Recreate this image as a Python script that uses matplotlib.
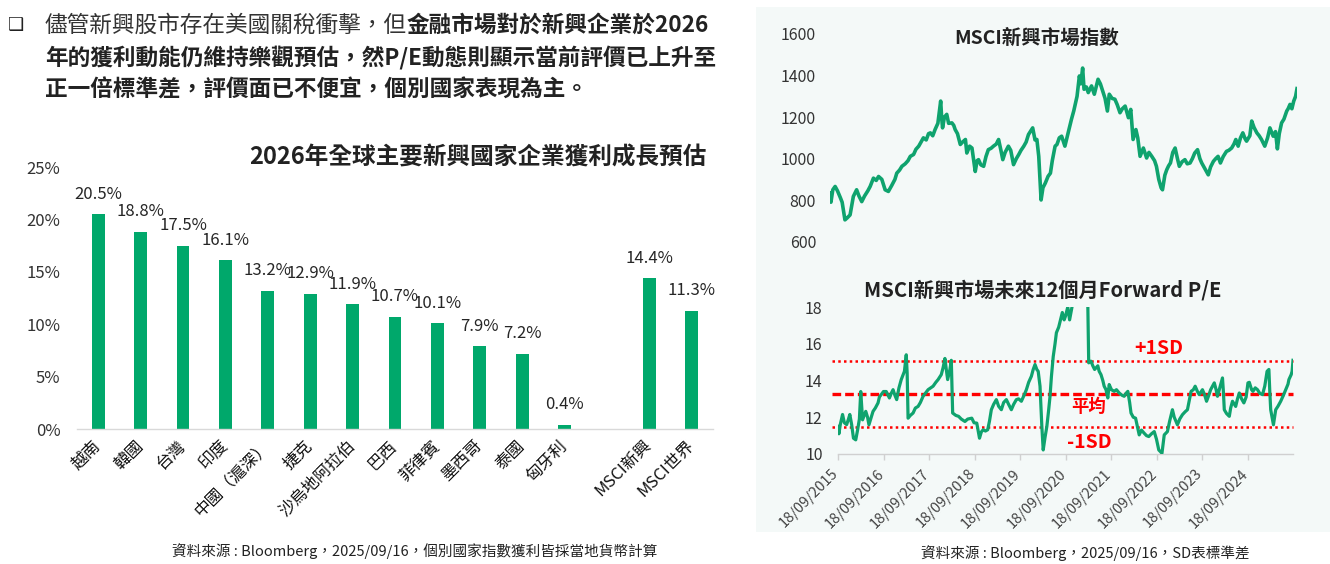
import matplotlib
matplotlib.use("Agg")
import matplotlib.pyplot as plt
import numpy as np
import pandas as pd
from matplotlib.patches import Rectangle
from matplotlib.transforms import ScaledTranslation

plt.rcParams['font.family'] = ['Noto Sans CJK TC', 'DejaVu Sans']

# ---------------- data ----------------
header_line1_a = "儘管新興股市存在美國關稅衝擊，但"
header_line1_b = "金融市場對於新興企業於2026"
header_line2 = "年的獲利動能仍維持樂觀預估，然P/E動態則顯示當前評價已上升至"
header_line3 = "正一倍標準差，評價面已不便宜，個別國家表現為主。"

bar_title = "2026年全球主要新興國家企業獲利成長預估"
bar_categories = ["越南", "韓國", "台灣", "印度", "中國（滬深）", "捷克", "沙烏地阿拉伯",
                  "巴西", "菲律賓", "墨西哥", "泰國", "匈牙利", "MSCI新興", "MSCI世界"]
bar_slots = [0, 1, 2, 3, 4, 5, 6, 7, 8, 9, 10, 11, 13, 14]
bar_values = [20.5, 18.8, 17.5, 16.1, 13.2, 12.9, 11.9, 10.7, 10.1, 7.9, 7.2, 0.4, 14.4, 11.3]
bar_yticks = [0, 5, 10, 15, 20, 25]
bar_source = "資料來源 : Bloomberg，2025/09/16，個別國家指數獲利皆採當地貨幣計算"

idx_title = "MSCI新興市場指數"
idx_yticks = [600, 800, 1000, 1200, 1400, 1600]
idx_years = [2015.71, 2015.73, 2015.77, 2015.82, 2015.87, 2015.93, 2015.97, 2016.03, 2016.08, 2016.14,
             2016.21, 2016.28, 2016.33, 2016.39, 2016.45, 2016.52, 2016.57, 2016.64, 2016.70, 2016.75,
             2016.82, 2016.89, 2016.96, 2017.03, 2017.10, 2017.14, 2017.20, 2017.25, 2017.32, 2017.38,
             2017.43, 2017.50, 2017.55, 2017.61, 2017.66, 2017.71, 2017.77, 2017.82, 2017.86, 2017.91,
             2017.96, 2018.02, 2018.08, 2018.10, 2018.12, 2018.16, 2018.21, 2018.25, 2018.32, 2018.36,
             2018.39, 2018.44, 2018.50, 2018.55, 2018.61, 2018.64, 2018.70, 2018.75, 2018.82, 2018.86,
             2018.89, 2018.94, 2019.00, 2019.05, 2019.10, 2019.16, 2019.21, 2019.27, 2019.32, 2019.37,
             2019.41, 2019.46, 2019.53, 2019.58, 2019.64, 2019.70, 2019.75, 2019.80, 2019.86, 2019.91,
             2019.96, 2020.05, 2020.10, 2020.14, 2020.18, 2020.21, 2020.23, 2020.27, 2020.32, 2020.38,
             2020.43, 2020.47, 2020.53, 2020.57, 2020.62, 2020.67, 2020.74, 2020.81, 2020.88, 2020.93,
             2020.96, 2021.00, 2021.05, 2021.08, 2021.12, 2021.15, 2021.20, 2021.24, 2021.31, 2021.37,
             2021.45, 2021.50, 2021.56, 2021.60, 2021.65, 2021.69, 2021.75, 2021.81, 2021.86, 2021.92,
             2021.97, 2022.03, 2022.10, 2022.15, 2022.20, 2022.26, 2022.30, 2022.35, 2022.42, 2022.49,
             2022.54, 2022.60, 2022.66, 2022.70, 2022.75, 2022.80, 2022.83, 2022.88, 2022.92, 2022.96,
             2023.00, 2023.05, 2023.10, 2023.15, 2023.19, 2023.25, 2023.31, 2023.36, 2023.42, 2023.47,
             2023.52, 2023.58, 2023.63, 2023.67, 2023.74, 2023.81, 2023.86, 2023.92, 2023.97, 2024.02,
             2024.07, 2024.13, 2024.20, 2024.25, 2024.31, 2024.36, 2024.40, 2024.45, 2024.50, 2024.55,
             2024.60, 2024.63, 2024.70, 2024.74, 2024.79, 2024.85, 2024.90, 2024.95, 2025.02, 2025.08,
             2025.13, 2025.20, 2025.25, 2025.29, 2025.33, 2025.38, 2025.43, 2025.49, 2025.52, 2025.56,
             2025.60, 2025.64, 2025.68, 2025.71]
idx_values = [835, 790, 850, 866, 845, 813, 790, 705, 715, 729,
              818, 850, 820, 793, 820, 845, 866, 906, 895, 914,
              900, 850, 842, 870, 900, 930, 945, 963, 975, 990,
              1011, 1020, 1045, 1060, 1080, 1100, 1090, 1120, 1124, 1110,
              1140, 1170, 1277, 1200, 1148, 1200, 1213, 1170, 1172, 1160,
              1140, 1120, 1068, 1080, 1092, 1027, 1060, 1051, 938, 990,
              995, 970, 963, 1010, 1043, 1050, 1060, 1070, 1092, 1040,
              995, 1030, 1060, 1040, 971, 1000, 1019, 1040, 1060, 1080,
              1116, 1148, 1090, 1092, 1011, 880, 801, 860, 882, 915,
              930, 990, 1060, 1068, 1100, 1108, 1060, 1124, 1189, 1230,
              1261, 1300, 1398, 1360, 1436, 1334, 1345, 1318, 1350, 1310,
              1382, 1360, 1318, 1290, 1229, 1310, 1290, 1286, 1260, 1221,
              1240, 1253, 1197, 1237, 1092, 1140, 1100, 1011, 1051, 1003,
              1030, 1011, 990, 963, 900, 860, 850, 920, 946, 965,
              979, 1030, 1051, 1000, 963, 985, 995, 975, 979, 1000,
              1027, 1043, 1000, 979, 950, 922, 960, 987, 1000, 1011,
              979, 1010, 1035, 1040, 1051, 1070, 1092, 1060, 1100, 1124,
              1095, 1084, 1110, 1181, 1150, 1124, 1110, 1092, 1060, 1100,
              1148, 1108, 1130, 1047, 1120, 1172, 1190, 1229, 1240, 1261,
              1240, 1277, 1300, 1337]

pe_title = "MSCI新興市場未來12個月Forward P/E"
pe_yticks = [10, 12, 14, 16, 18]
pe_tick_dates = ["18/09/2015", "18/09/2016", "18/09/2017", "18/09/2018", "18/09/2019",
                 "18/09/2020", "18/09/2021", "18/09/2022", "18/09/2023", "18/09/2024"]
pe_mean = 13.25
pe_sd = 1.8
pe_years = [2015.71, 2015.73, 2015.76, 2015.81, 2015.85, 2015.90, 2015.94, 2015.97, 2016.01, 2016.05,
            2016.10, 2016.14, 2016.18, 2016.21, 2016.25, 2016.30, 2016.32, 2016.36, 2016.39, 2016.44,
            2016.48, 2016.53, 2016.59, 2016.62, 2016.66, 2016.71, 2016.77, 2016.84, 2016.88, 2016.92,
            2016.96, 2017.00, 2017.05, 2017.10, 2017.14, 2017.17, 2017.21, 2017.23, 2017.25, 2017.30,
            2017.36, 2017.41, 2017.47, 2017.52, 2017.58, 2017.63, 2017.69, 2017.75, 2017.80, 2017.86,
            2017.91, 2017.98, 2018.02, 2018.06, 2018.09, 2018.12, 2018.17, 2018.20, 2018.23, 2018.30,
            2018.36, 2018.42, 2018.50, 2018.56, 2018.65, 2018.70, 2018.76, 2018.82, 2018.86, 2018.90,
            2018.95, 2019.00, 2019.04, 2019.08, 2019.13, 2019.19, 2019.24, 2019.30, 2019.35, 2019.41,
            2019.46, 2019.52, 2019.57, 2019.63, 2019.68, 2019.74, 2019.80, 2019.85, 2019.90, 2019.96,
            2020.00, 2020.04, 2020.08, 2020.11, 2020.15, 2020.19, 2020.22, 2020.26, 2020.30, 2020.34,
            2020.37, 2020.40, 2020.44, 2020.48, 2020.51, 2020.56, 2020.60, 2020.64, 2020.68, 2020.71,
            2020.76, 2020.80, 2020.86, 2020.92, 2020.98, 2021.05, 2021.12, 2021.19, 2021.20, 2021.22,
            2021.27, 2021.31, 2021.35, 2021.42, 2021.45, 2021.49, 2021.53, 2021.56, 2021.60, 2021.64,
            2021.67, 2021.72, 2021.78, 2021.83, 2021.89, 2021.95, 2022.00, 2022.04, 2022.08, 2022.12,
            2022.15, 2022.20, 2022.25, 2022.29, 2022.33, 2022.38, 2022.44, 2022.49, 2022.54, 2022.60,
            2022.66, 2022.71, 2022.76, 2022.83, 2022.88, 2022.95, 2023.00, 2023.06, 2023.10, 2023.17,
            2023.22, 2023.28, 2023.34, 2023.39, 2023.43, 2023.47, 2023.52, 2023.56, 2023.61, 2023.65,
            2023.72, 2023.77, 2023.81, 2023.86, 2023.90, 2023.98, 2024.02, 2024.05, 2024.10, 2024.16,
            2024.18, 2024.20, 2024.25, 2024.31, 2024.34, 2024.38, 2024.45, 2024.49, 2024.53, 2024.58,
            2024.63, 2024.68, 2024.72, 2024.75, 2024.80, 2024.83, 2024.88, 2024.93, 2024.98, 2025.04,
            2025.09, 2025.14, 2025.18, 2025.20, 2025.22, 2025.28, 2025.31, 2025.33, 2025.38, 2025.44,
            2025.50, 2025.55, 2025.60, 2025.62, 2025.67, 2025.69, 2025.71]
pe_values = [11.5, 11.1, 11.6, 12.15, 11.7, 11.6, 11.9, 12.15, 11.6, 10.86,
             10.77, 11.3, 11.9, 13.4, 11.86, 12.2, 12.32, 12.0, 11.59, 12.0,
             12.32, 12.5, 12.78, 13.1, 13.23, 13.4, 13.4, 13.05, 13.3, 13.5,
             13.2, 12.96, 13.6, 14.05, 14.3, 14.5, 15.4, 14.4, 11.95, 12.1,
             12.23, 12.5, 12.59, 12.8, 13.14, 13.3, 13.5, 13.6, 13.69, 13.9,
             14.05, 14.32, 14.7, 15.2, 14.6, 14.05, 14.6, 15.1, 12.23, 12.1,
             12.05, 11.9, 11.77, 11.9, 11.95, 11.7, 11.68, 10.86, 11.2, 11.32,
             11.25, 11.32, 11.8, 12.41, 12.7, 12.96, 12.6, 12.41, 12.8, 12.96,
             12.7, 12.41, 12.7, 12.96, 13.0, 12.87, 13.2, 13.5, 13.9, 14.23,
             14.6, 14.87, 14.6, 14.5, 13.69, 11.5, 10.22, 10.9, 11.5, 12.4,
             13.14, 14.2, 15.3, 16.0, 16.6, 16.9, 17.3, 17.7, 17.3, 17.5,
             18.0, 17.3, 18.1, 18.8, 19.3, 19.8, 19.5, 18.5, 18.2, 14.96,
             15.05, 14.8, 14.6, 14.8, 14.5, 14.32, 14.0, 13.69, 13.5, 13.05,
             13.78, 13.5, 13.41, 13.5, 13.32, 13.2, 13.14, 13.3, 13.41, 12.8,
             12.23, 12.0, 11.95, 11.5, 11.04, 11.3, 11.13, 11.0, 10.95, 11.1,
             11.22, 10.8, 10.22, 10.04, 11.04, 11.22, 11.8, 12.41, 12.0, 11.59,
             11.9, 12.14, 12.3, 12.41, 12.9, 13.41, 13.5, 13.69, 13.4, 13.23,
             13.5, 13.2, 12.87, 13.2, 13.5, 13.87, 13.5, 13.14, 13.6, 14.14,
             13.4, 12.41, 12.2, 12.05, 12.5, 12.87, 12.59, 13.0, 13.32, 13.0,
             12.78, 13.1, 13.87, 13.9, 13.5, 13.41, 13.6, 13.5, 13.3, 13.23,
             13.7, 14.5, 14.6, 13.4, 12.41, 11.59, 12.1, 12.41, 12.6, 12.87,
             13.2, 13.5, 13.8, 14.05, 14.32, 14.5, 15.1]
pe_source = "資料來源 : Bloomberg，2025/09/16，SD表標準差"

# ---------------- styling ----------------
W, H = 1330, 564
GREEN = '#00a86b'
LINE_GREEN = '#0fa36e'
RED = '#ff0000'
TXT = '#262626'
PANEL = '#f4f9f8'

fig = plt.figure(figsize=(W / 100, H / 100), dpi=100)
fig.patch.set_facecolor('white')


def fx(x):
    return x / W


def fy(y):
    return 1 - y / H


def rect(l, t, r, b):
    return [fx(l), fy(b), (r - l) / W, (b - t) / H]


# right background panel
fig.patches.append(Rectangle((fx(756), fy(532)), (1330 - 756) / W, (532 - 7) / H,
                             transform=fig.transFigure, facecolor=PANEL, edgecolor='none', zorder=-10))

# ---------------- header text ----------------
HFS = 16.3
fig.text(fx(8), fy(25), "❑", family=['DejaVu Sans'], fontsize=13, color='#222', va='center', ha='left')
t1 = fig.text(fx(45), fy(25), header_line1_a, fontsize=HFS, color='#333', va='center', ha='left')
fig.canvas.draw()
bb = t1.get_window_extent()
fig.text(bb.x1 / W, fy(25), header_line1_b, fontsize=HFS, color='#222', va='center', ha='left',
         fontweight='bold')
fig.text(fx(45), fy(57.5), header_line2, fontsize=HFS, color='#222', va='center', ha='left', fontweight='bold')
fig.text(fx(45), fy(90), header_line3, fontsize=HFS, color='#222', va='center', ha='left', fontweight='bold')

# ---------------- bar chart ----------------
axb = fig.add_axes(rect(77, 167, 713, 429))
axb.set_facecolor('none')
axb.bar(bar_slots, bar_values, width=0.3, color=GREEN, zorder=2)
axb.set_xlim(-0.5, 14.5)
axb.set_ylim(0, 25)
axb.set_yticks(bar_yticks, [f"{v}%" for v in bar_yticks])
axb.set_xticks(bar_slots, bar_categories, rotation=45, ha='right', va='top')
axb.tick_params(axis='y', length=0, pad=12, labelsize=12, labelcolor='#333')
axb.tick_params(axis='x', length=0, pad=6, labelsize=12, labelcolor='#111')
shift = ScaledTranslation(6 / 100, 0, fig.dpi_scale_trans)
for lab in axb.get_xticklabels():
    lab.set_transform(lab.get_transform() + shift)
for s in ['top', 'right', 'left']:
    axb.spines[s].set_visible(False)
axb.spines['bottom'].set_color('#d9d9d9')
axb.spines['bottom'].set_linewidth(1)
for xs, v in zip(bar_slots, bar_values):
    axb.annotate(f"{v:.1f}%", (xs, v), xytext=(0, 14.4), textcoords='offset points',
                 ha='center', va='center', fontsize=12, color=TXT)
fig.text(fx(478), fy(158), bar_title, fontsize=17, color='#222', ha='center', va='center', fontweight='bold')
fig.text(fx(415), fy(551), bar_source, fontsize=10.5, color='#222', ha='center', va='center')

# ---------------- index chart ----------------
axi = fig.add_axes(rect(830, 34, 1297, 241.7))
axi.set_facecolor('none')
axi.plot(idx_years, idx_values, color=LINE_GREEN, lw=2.6, solid_joinstyle='round')
axi.set_xlim(2015.71, 2025.71)
axi.set_ylim(600, 1600)
axi.set_yticks(idx_yticks, [str(v) for v in idx_yticks])
axi.set_xticks([])
axi.tick_params(axis='y', length=0, pad=10, labelsize=11.5, labelcolor='#333')
for s in axi.spines.values():
    s.set_visible(False)
fig.text(fx(1037), fy(38), idx_title, fontsize=14, color='#222', ha='center', va='center', fontweight='bold')

# ---------------- P/E chart ----------------
axp = fig.add_axes(rect(838, 307, 1293, 454))
axp.set_facecolor('none')
axp.plot(pe_years, pe_values, color=LINE_GREEN, lw=2.3, solid_joinstyle='round', zorder=3)
axp.set_xlim(2015.71, 2025.71)
axp.set_ylim(10, 18)
x_lo, x_hi = 2015.57, 2025.71
axp.plot([x_lo, x_hi], [pe_mean, pe_mean], color=RED, lw=2.4, ls=(0, (2.6, 1.2)), clip_on=False, zorder=2)
axp.plot([x_lo, x_hi], [pe_mean + pe_sd] * 2, color=RED, lw=1.8, ls=(0, (1, 1.3)), clip_on=False, zorder=2)
axp.plot([x_lo, x_hi], [pe_mean - pe_sd] * 2, color=RED, lw=1.8, ls=(0, (1, 1.3)), clip_on=False, zorder=2)
axp.set_yticks(pe_yticks, [str(v) for v in pe_yticks])
tick_dt = pd.to_datetime(pe_tick_dates, format="%d/%m/%Y")
tick_pos = [d.year + (d.dayofyear - 1) / (366 if d.is_leap_year else 365) for d in tick_dt]
axp.set_xticks(tick_pos, pe_tick_dates, rotation=45, ha='right', va='top')
axp.tick_params(axis='y', length=0, pad=11, labelsize=11.5, labelcolor='#333')
axp.tick_params(axis='x', length=4, width=1, color='#d0d0d0', pad=5, labelsize=10.5, labelcolor='#444')
xshift = ScaledTranslation(3 / 100, 0, fig.dpi_scale_trans)
for lab in axp.get_xticklabels():
    lab.set_transform(lab.get_transform() + xshift)
for s in ['top', 'right', 'left']:
    axp.spines[s].set_visible(False)
axp.spines['bottom'].set_color('#d0d0d0')
axp.spines['bottom'].set_linewidth(1)
fig.text(fx(1043), fy(290), pe_title, fontsize=14.5, color='#222', ha='center', va='center', fontweight='bold')
fig.text(fx(1159), fy(349), "+1SD", fontsize=14, color=RED, ha='center', va='center', fontweight='bold')
fig.text(fx(1089), fy(407), "平均", fontsize=12.5, color=RED, ha='center', va='center', fontweight='bold')
fig.text(fx(1089), fy(442), "-1SD", fontsize=14, color=RED, ha='center', va='center', fontweight='bold')
fig.text(fx(1085), fy(553), pe_source, fontsize=10.5, color='#222', ha='center', va='center')

fig.savefig("out.png", dpi=100, facecolor='white')
